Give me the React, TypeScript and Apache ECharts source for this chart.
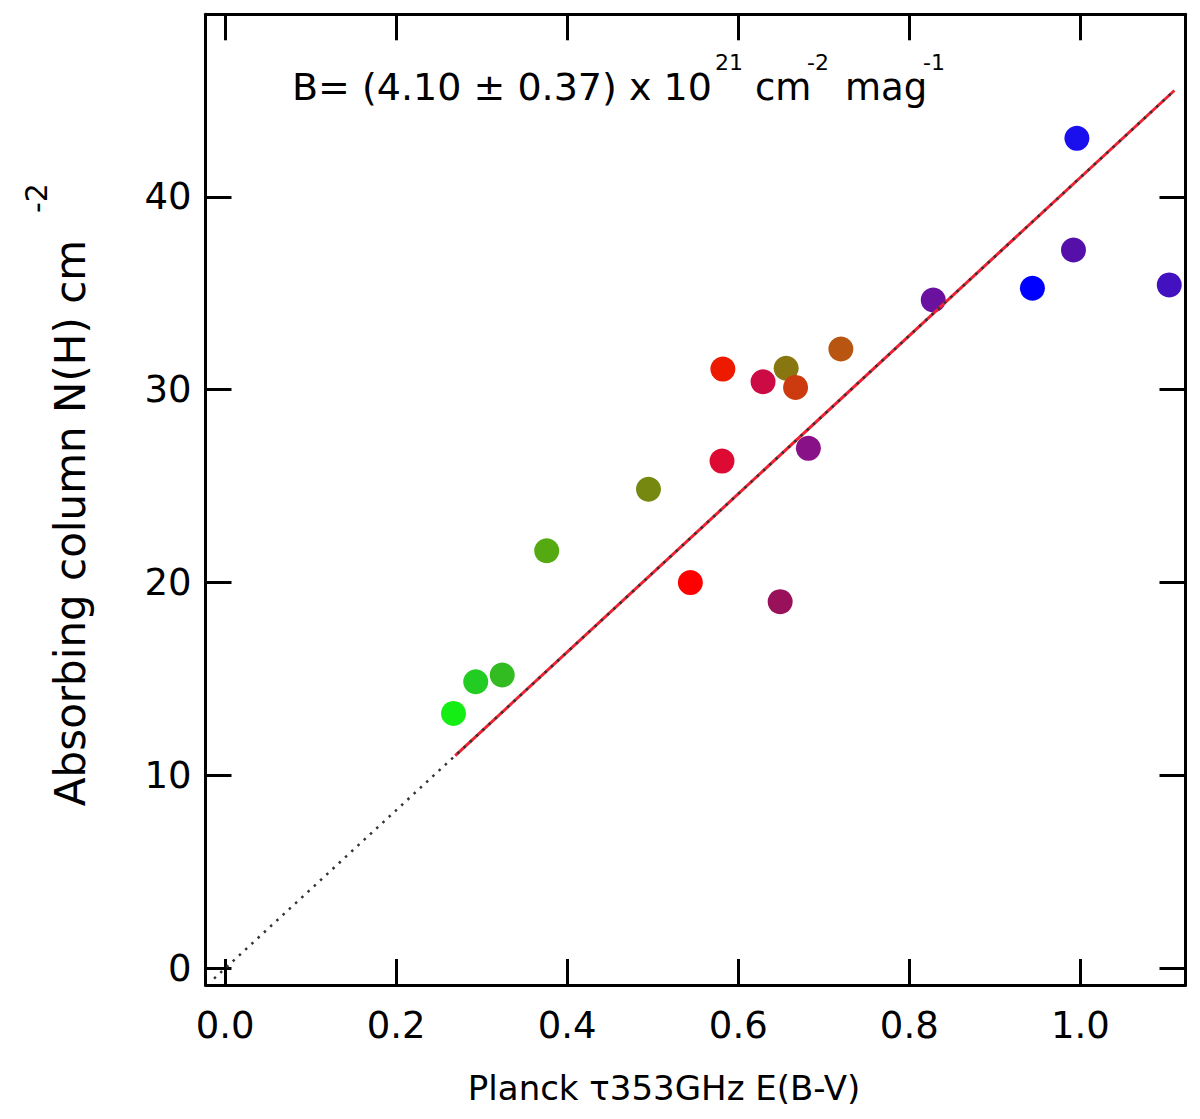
import { useEffect, useRef } from 'react';
import * as echarts from 'echarts';

// measured points: Planck tau353 E(B-V) vs absorbing column
const xValues = [
  0.267, 0.293, 0.324, 0.376, 0.495, 0.544, 0.582, 0.581, 0.629, 0.656,
  0.667, 0.720, 0.649, 0.682, 0.828, 0.944, 0.996, 0.992, 1.104,
];
const yValues = [
  13.22, 14.86, 15.21, 21.65, 24.84, 20.0, 31.07, 26.30, 30.41, 31.11,
  30.12, 32.11, 19.01, 26.96, 34.65, 35.26, 43.03, 37.24, 35.43,
];
const pointColors = [
  '#14ee14', '#22cc22', '#33bb22', '#55aa11', '#778811', '#ff0000', '#ee1a00',
  '#dd0a33', '#cc0a44', '#887711', '#cc3a10', '#b85510', '#99115a', '#881188',
  '#6a11a0', '#0000ff', '#1a10ee', '#5510aa', '#4411c0',
];

// fitted line (red) and its dotted extension to the origin
const fitLine = [[0.269, 11.03], [1.11, 45.51]];
const guideLine = [[-0.013, -0.53], [1.11, 45.51]];

const xRange = [-0.023, 1.123];
const yRange = [-0.86, 49.46];

const FONT = "'DejaVu Sans', Verdana, sans-serif";

const App = () => {
  const chartRef = useRef<HTMLDivElement>(null);

  useEffect(() => {
    if (!chartRef.current) return;
    document.body.style.margin = '0';

    const chart = echarts.init(chartRef.current, null, { renderer: 'svg' });

    const line = { show: true, onZero: false, lineStyle: { color: '#000', width: 3 } };
    const tick = { show: true, inside: true, length: 26, lineStyle: { color: '#000', width: 3 } };

    const xAxisBase = {
      type: 'value' as const,
      min: xRange[0],
      max: xRange[1],
      splitNumber: 5,
      axisLine: line,
      axisTick: tick,
      splitLine: { show: false },
    };
    const yAxisBase = {
      type: 'value' as const,
      min: yRange[0],
      max: yRange[1],
      splitNumber: 5,
      axisLine: line,
      axisTick: tick,
      splitLine: { show: false },
    };

    const text = (t: string, x: number, y: number, size: number, rotation = 0, align = 'left') => ({
      type: 'text',
      x,
      y,
      rotation,
      style: {
        text: t,
        fill: '#000',
        fontSize: size,
        fontFamily: FONT,
        align,
        textAlign: align,
        verticalAlign: 'middle',
        textVerticalAlign: 'middle',
      },
    });

    const option: any = {
      animation: false,
      backgroundColor: '#fff',
      grid: { left: 205.5, right: 14.5, top: 14.3, bottom: 134 },
      xAxis: [
        {
          ...xAxisBase,
          position: 'bottom',
          axisLabel: {
            show: true,
            margin: 22,
            fontSize: 37,
            fontFamily: FONT,
            color: '#000',
            showMinLabel: false,
            showMaxLabel: false,
            formatter: (v: number) => v.toFixed(1),
          },
        },
        { ...xAxisBase, position: 'top', axisLabel: { show: false } },
      ],
      yAxis: [
        {
          ...yAxisBase,
          position: 'left',
          axisLabel: {
            show: true,
            margin: 14,
            fontSize: 37,
            fontFamily: FONT,
            color: '#000',
            showMinLabel: false,
            showMaxLabel: false,
            formatter: (v: number) => String(Math.round(v)),
          },
        },
        { ...yAxisBase, position: 'right', axisLabel: { show: false } },
      ],
      series: [
        {
          type: 'scatter',
          symbol: 'circle',
          symbolSize: 25,
          data: xValues.map((x, i) => ({
            value: [x, yValues[i]],
            itemStyle: { color: pointColors[i], opacity: 1 },
          })),
          z: 2,
        },
        {
          type: 'line',
          data: fitLine,
          symbol: 'none',
          lineStyle: { color: '#ee2233', width: 3 },
          z: 3,
        },
        {
          type: 'line',
          data: guideLine,
          symbol: 'none',
          lineStyle: { color: '#333', width: 2.5, type: [2.5, 6] },
          z: 4,
        },
      ],
      graphic: [
        text('B= (4.10 ± 0.37) x 10', 292, 87, 38),
        text('21', 715, 62, 22),
        text('cm', 755, 87, 37),
        text('-2', 807, 62, 22),
        text('mag', 845, 87, 37),
        text('-1', 923, 62, 22),
        text('Planck τ353GHz E(B-V)', 664, 1088, 34, 0, 'center'),
        text('Absorbing column N(H) cm', 70, 523, 42, Math.PI / 2, 'center'),
        text('-2', 36, 198, 30, Math.PI / 2, 'center'),
      ],
    };

    chart.setOption(option);

    return () => {
      chart.dispose();
    };
  }, []);

  return <div ref={chartRef} style={{ width: 1200, height: 1119 }} />;
};

export default App;
